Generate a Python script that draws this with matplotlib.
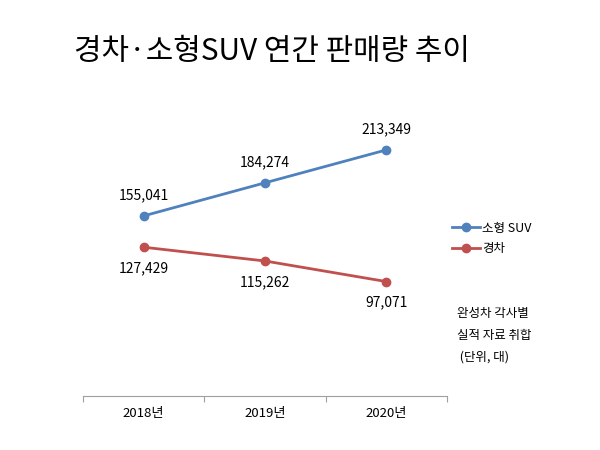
import matplotlib.pyplot as plt

plt.rcParams['font.family'] = ['Noto Sans CJK KR', 'DejaVu Sans']

years = ['2018년', '2019년', '2020년']
suv = [155041, 184274, 213349]
kei = [127429, 115262, 97071]

fig = plt.figure(figsize=(6, 4.5), dpi=100)
ax = fig.add_axes([0.138, 0.12, 0.607, 0.629])

x = [0, 1, 2]
ax.plot(x, suv, color='#4F81BD', marker='o', markersize=6, linewidth=2, label='소형 SUV')
ax.plot(x, kei, color='#C0504D', marker='o', markersize=6, linewidth=2, label='경차')

for xi, v in zip(x, suv):
    ax.annotate(f'{v:,}', (xi, v), xytext=(0, 10), textcoords='offset points',
                ha='center', va='bottom', fontsize=10)
for xi, v in zip(x, kei):
    ax.annotate(f'{v:,}', (xi, v), xytext=(0, -10), textcoords='offset points',
                ha='center', va='top', fontsize=10)

ax.set_xlim(-0.5, 2.5)
ax.set_ylim(-4000, 246000)
ax.set_yticks([])
ax.set_xticks([-0.5, 0.5, 1.5, 2.5])
ax.set_xticklabels([])
ax.set_xticks(x, minor=True)
ax.set_xticklabels(years, minor=True, fontsize=9.5)
ax.tick_params(axis='x', which='major', length=4, color='#A0A0A0', direction='out')
ax.tick_params(axis='x', which='minor', length=0, pad=8)
for s in ['top', 'right', 'left']:
    ax.spines[s].set_visible(False)
ax.spines['bottom'].set_color('#A0A0A0')

fig.text(0.123, 0.885, '경차·소형SUV 연간 판매량 추이', fontsize=21.5, va='center', ha='left')

fig.legend(loc='center left', bbox_to_anchor=(0.735, 0.47), frameon=False, fontsize=9,
           handlelength=2.2, handletextpad=0.2, labelspacing=0.6)

fig.text(0.762, 0.255, '완성차 각사별\n실적 자료 취합\n (단위, 대)', fontsize=9,
         va='center', ha='left', linespacing=1.9)

fig.savefig('out.png', dpi=100)
